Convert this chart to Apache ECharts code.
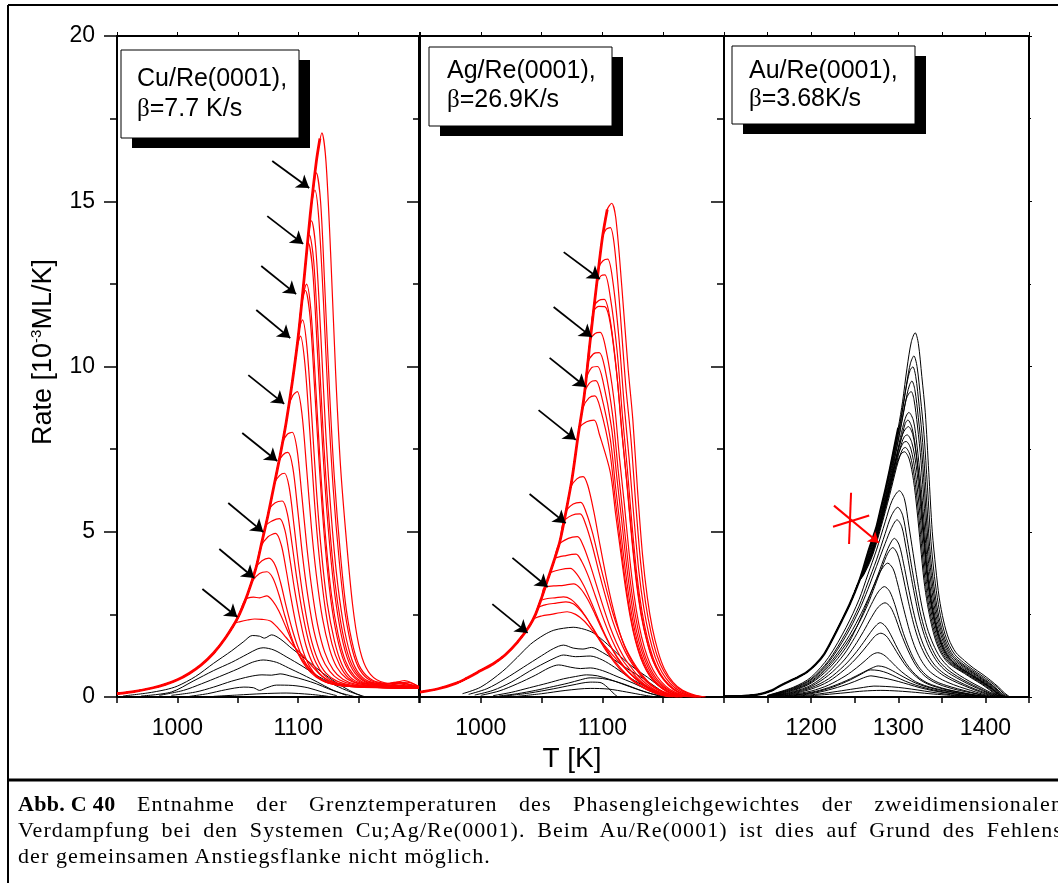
<!DOCTYPE html>
<html>
<head>
<meta charset="utf-8">
<title>Abb. C 40</title>
<script src="https://cdn.jsdelivr.net/npm/echarts@6/dist/echarts.min.js"></script>
<style>
html, body { margin:0; padding:0; overflow:hidden; background:#fff; }
#main { width:1058px; height:883px; }
#cap { position:absolute; left:18px; top:791px; width:1045px; font-family:"Liberation Serif", serif; font-size:22px; letter-spacing:1.1px; line-height:26px; color:#000; }
#cap .j { text-align:justify; text-align-last:justify; }
#cap .k { display:inline-block; font-weight:bold; letter-spacing:0.3px; }
</style>
</head>
<body>
<div id="main"></div>
<div id="cap">
<div class="j"><span class="k">Abb. C 40</span> Entnahme der Grenztemperaturen des Phasengleichgewichtes der zweidimensionalen</div>
<div class="j">Verdampfung bei den Systemen Cu;Ag/Re(0001). Beim Au/Re(0001) ist dies auf Grund des Fehlens</div>
<div>der gemeinsamen Anstiegsflanke nicht möglich.</div>
</div>
<script>
// Achsenbereiche der drei Teilbilder (T in K)
var xRanges = [[950, 1200], [950, 1200], [1100, 1450]];
var yRange = [0, 20];

/*
 * Cu/Re(0001)
 */
// gemeinsame Anstiegsflanke
var cuEdge = [[950,0.1],[965,0.17],[980,0.28],[990,0.38],[1000,0.52],[1010,0.72],[1020,0.98],[1030,1.33],[1040,1.8],[1050,2.4],[1058,3.1],[1065,3.9],[1070,4.7],[1075,5.5],[1080,6.4],[1085,7.3],[1090,8.3],[1095,9.5],[1100,10.9],[1105,12.7],[1110,14.6],[1115,16.2],[1118,16.9]];
// rote Kurven ab Abloesung von der Flanke
var cuRed = [
  [[1116,16.45],[1119.6,17.07],[1123,16.2],[1127,13.3],[1131,9.8],[1135,7.0],[1140,4.7],[1145,2.8],[1150,1.6],[1156,0.9],[1165,0.52],[1180,0.4],[1190,0.45],[1200,0.32]],
  [[1112,15.25],[1115,15.86],[1118.5,15.0],[1122,12.4],[1126,9.2],[1130,6.6],[1135,4.3],[1140,2.6],[1146,1.45],[1152,0.85],[1162,0.5],[1178,0.38],[1200,0.3]],
  [[1111,14.92],[1113.8,15.34],[1117,14.5],[1121,11.9],[1125,8.8],[1129,6.3],[1134,4.1],[1139,2.5],[1145,1.4],[1151,0.82],[1160,0.5],[1176,0.4],[1188,0.5],[1200,0.3]],
  [[1108.5,13.95],[1111,14.41],[1114.5,13.6],[1118.5,11.1],[1122.5,8.2],[1126.5,5.9],[1131.5,3.8],[1137,2.3],[1143,1.3],[1149,0.78],[1158,0.48],[1175,0.36],[1200,0.32]],
  [[1107,13.46],[1109.3,13.98],[1112.8,13.2],[1116.8,10.7],[1120.8,7.9],[1125,5.6],[1130,3.6],[1135.5,2.2],[1141.5,1.25],[1148,0.75],[1157,0.46],[1172,0.4],[1185,0.42],[1200,0.28]],
  [[1106,13.08],[1108.5,13.73],[1112,12.9],[1116,10.4],[1120,7.7],[1124,5.5],[1129,3.5],[1134.5,2.1],[1140.5,1.2],[1147,0.72],[1156,0.45],[1172,0.36],[1200,0.3]],
  [[1103,11.95],[1106.9,12.49],[1110.5,11.7],[1114.5,9.4],[1118.5,6.9],[1122.5,4.9],[1127.5,3.1],[1133,1.9],[1139,1.1],[1146,0.66],[1155,0.43],[1170,0.36],[1200,0.29]],
  [[1102.5,11.8],[1106,12.3],[1109.8,11.5],[1113.8,9.2],[1117.8,6.8],[1121.8,4.8],[1126.8,3.0],[1132,1.85],[1138,1.07],[1145,0.64],[1154,0.42],[1168,0.38],[1182,0.45],[1200,0.3]],
  [[1100.5,11.08],[1103.6,11.41],[1107.2,10.6],[1111.2,8.5],[1115.2,6.2],[1119.2,4.4],[1124.2,2.8],[1130,1.7],[1136,1.0],[1143,0.6],[1152,0.42],[1168,0.34],[1200,0.3]],
  [[1098.5,10.48],[1101.9,10.92],[1105.5,10.1],[1109.5,8.1],[1113.5,5.9],[1117.5,4.2],[1122.5,2.65],[1128,1.6],[1134.5,0.95],[1141.5,0.58],[1151,0.4],[1166,0.33],[1178,0.42],[1200,0.28]],
  [[1092,8.78],[1095.5,9.12],[1099.2,9.24],[1103,8.6],[1107,6.9],[1111,5.1],[1115,3.7],[1120,2.4],[1126,1.45],[1132,0.9],[1140,0.56],[1150,0.4],[1166,0.32],[1200,0.27]],
  [[1087,7.7],[1091,7.95],[1095,8.01],[1099,7.5],[1103,6.1],[1107,4.6],[1111,3.35],[1116,2.2],[1122,1.35],[1129,0.82],[1137,0.54],[1148,0.38],[1164,0.32],[1200,0.27]],
  [[1084,7.12],[1087.5,7.33],[1091.5,7.4],[1095.5,6.95],[1099.5,5.7],[1103.5,4.3],[1108,3.05],[1113,2.0],[1119,1.25],[1126,0.78],[1134,0.52],[1146,0.37],[1165,0.3],[1200,0.28]],
  [[1080.5,6.49],[1084.5,6.7],[1088.7,6.77],[1092.5,6.35],[1096.5,5.2],[1100.5,3.95],[1105,2.8],[1110,1.85],[1116,1.15],[1123,0.72],[1132,0.48],[1145,0.35],[1165,0.3],[1200,0.27]],
  [[1076,5.68],[1081,5.88],[1086.8,5.93],[1091,5.55],[1095,4.6],[1099,3.55],[1103.5,2.55],[1108.5,1.7],[1114.5,1.05],[1121.5,0.66],[1130,0.45],[1145,0.34],[1170,0.3],[1200,0.28]],
  [[1073,5.18],[1078.5,5.33],[1084.6,5.4],[1089,5.05],[1093,4.2],[1097,3.25],[1101.5,2.35],[1106.5,1.55],[1112.5,0.98],[1120,0.62],[1129,0.43],[1145,0.33],[1200,0.27]],
  [[1069,4.54],[1075,4.85],[1081.3,4.95],[1086,4.6],[1090,3.85],[1094,3.0],[1098.5,2.15],[1103.5,1.45],[1109.5,0.92],[1117,0.58],[1126,0.41],[1142,0.32],[1200,0.27]],
  [[1065,3.9],[1070,4.12],[1075.8,4.2],[1081,3.98],[1085.5,3.45],[1090,2.75],[1095,2.05],[1100.5,1.45],[1107,0.97],[1115,0.64],[1124,0.44],[1142,0.32],[1200,0.27]],
  [[1062,3.5],[1068,3.74],[1074.1,3.79],[1079,3.6],[1084,3.1],[1089,2.45],[1094,1.85],[1100,1.3],[1107,0.88],[1115,0.6],[1125,0.42],[1142,0.32],[1200,0.26]],
  [[1056,2.93],[1063,3.02],[1068,3.0],[1074,3.06],[1079,2.9],[1084,2.6],[1090,2.1],[1096,1.6],[1102,1.2],[1109,0.85],[1117,0.58],[1127,0.42],[1145,0.32],[1200,0.26]],
  [[1047,2.22],[1052,2.28],[1058,2.33],[1064,2.36],[1070,2.35],[1077,2.3],[1083,2.1],[1090,1.8],[1097,1.5],[1104,1.25],[1111,0.95],[1118,0.68],[1126,0.48],[1136,0.36],[1150,0.3],[1200,0.26]]
];
// schwarze Kurven (kleine Bedeckungen)
var cuBlack = [
  [[955,0.03],[975,0.12],[990,0.22],[1000,0.33],[1015,0.62],[1030,1.02],[1045,1.4],[1055,1.68],[1062,1.86],[1068,1.84],[1072,1.78],[1078,1.88],[1085,1.76],[1095,1.46],[1105,1.18],[1115,0.88],[1125,0.6],[1137,0.31],[1148,0.1],[1156,0]],
  [[970,0.03],[995,0.15],[1013,0.48],[1030,0.8],[1045,1.05],[1058,1.3],[1066,1.45],[1071,1.49],[1080,1.42],[1090,1.22],[1104,0.92],[1115,0.66],[1127,0.42],[1140,0.2],[1152,0.04]],
  [[985,0.05],[1005,0.2],[1020,0.4],[1035,0.62],[1050,0.85],[1062,1.05],[1071,1.12],[1082,1.05],[1092,0.88],[1104,0.67],[1116,0.45],[1128,0.22],[1140,0.05]],
  [[995,0.05],[1015,0.15],[1030,0.3],[1045,0.48],[1060,0.62],[1070,0.67],[1078,0.66],[1085,0.7],[1095,0.62],[1105,0.52],[1115,0.4],[1125,0.25],[1135,0.12],[1146,0.02]],
  [[1010,0.02],[1025,0.1],[1040,0.22],[1055,0.3],[1063,0.28],[1068,0.2],[1074,0.28],[1082,0.36],[1095,0.35],[1108,0.28],[1120,0.15],[1132,0.04]],
  [[1030,0.02],[1050,0.06],[1070,0.1],[1090,0.12],[1110,0.08],[1125,0.02]]
];
// Pfeile: [T Anfang, Rate Anfang, T Spitze, Rate Spitze]
var cuArrows = [[1078.5,16.22,1109.1,15.4],[1074.4,14.55,1104.1,13.71],[1069.4,13.04,1098.3,12.19],[1065.3,11.71,1093.4,10.86],[1058.7,9.74,1088.4,8.87],[1053.7,7.99,1082.6,7.14],[1042.1,5.87,1071.1,4.99],[1034.7,4.48,1063.6,3.6],[1020.7,3.27,1049.6,2.42]];

/*
 * Ag/Re(0001)
 */
var agEdge = [[950,0.15],[965,0.25],[980,0.42],[990,0.6],[1000,0.8],[1010,1.0],[1020,1.27],[1030,1.65],[1040,2.15],[1045,2.5],[1050,3.0],[1055,3.55],[1060,4.1],[1065,4.7],[1070,5.6],[1075,6.6],[1080,7.9],[1085,9.1],[1090,10.8],[1095,12.4],[1100,13.9],[1104,14.75]];
var agRed = [
  [[1104,14.75],[1107.6,14.94],[1111,14.5],[1116,12.4],[1121,10.0],[1125,8.4],[1129,6.2],[1133,4.3],[1137,3.0],[1141,2.1],[1146,1.35],[1151,0.85],[1158,0.45],[1166,0.2],[1176,0.06],[1185,0]],
  [[1100,13.9],[1103,14.15],[1106.5,14.2],[1110,13.6],[1114.5,11.7],[1119,9.5],[1123.5,7.8],[1127.5,5.8],[1131.5,4.05],[1135.5,2.85],[1140,1.95],[1145,1.25],[1150.5,0.78],[1157.5,0.42],[1165.5,0.18],[1175,0.05],[1184,0]],
  [[1097,13.0],[1100.5,13.2],[1104.4,13.25],[1108.5,12.6],[1113.5,10.9],[1118,8.8],[1122,7.2],[1126,5.4],[1130,3.8],[1134,2.7],[1138.5,1.85],[1143.5,1.2],[1149,0.75],[1156,0.4],[1164,0.17],[1174,0.04],[1183,0]],
  [[1095.5,12.55],[1099,12.75],[1102.1,12.77],[1106.5,12.1],[1112,10.5],[1116.5,8.5],[1120.5,6.9],[1124.5,5.15],[1128.5,3.65],[1132.5,2.6],[1137,1.78],[1142,1.15],[1147.5,0.72],[1154.5,0.38],[1162.5,0.16],[1172,0.04],[1181,0]],
  [[1093,11.8],[1097,12.0],[1101.5,12.03],[1106,11.5],[1111.5,9.9],[1116,8.0],[1120,6.5],[1124,4.85],[1128,3.45],[1132,2.45],[1136.5,1.7],[1141.5,1.1],[1147,0.7],[1154,0.37],[1162,0.15],[1172,0.04],[1181,0]],
  [[1092.5,11.65],[1097,11.82],[1102,11.81],[1106.5,11.3],[1112,9.7],[1116.5,7.85],[1120.5,6.35],[1124.5,4.75],[1128.5,3.4],[1132.5,2.4],[1137,1.65],[1142,1.07],[1147.5,0.68],[1154.5,0.36],[1162,0.15],[1172,0.04],[1181,0]],
  [[1090,10.8],[1094,11.0],[1098.2,11.03],[1103,10.5],[1109.5,9.0],[1114,7.25],[1118,5.85],[1122,4.35],[1126,3.1],[1130,2.2],[1134.5,1.5],[1139.5,0.98],[1145,0.62],[1152,0.33],[1160,0.14],[1170,0.03],[1180,0]],
  [[1088,10.1],[1092.5,10.38],[1097.4,10.42],[1102,9.95],[1108.5,8.5],[1113,6.85],[1117,5.5],[1121,4.1],[1125,2.95],[1129,2.1],[1133.5,1.42],[1138.5,0.93],[1144,0.58],[1151,0.31],[1159,0.13],[1169,0.03],[1179,0]],
  [[1086.5,9.6],[1091,9.96],[1096,10.0],[1100.5,9.55],[1107.5,8.15],[1112,6.6],[1116,5.3],[1120,3.95],[1124,2.85],[1128,2.0],[1132.5,1.38],[1137.5,0.9],[1143,0.56],[1150,0.3],[1158.5,0.12],[1168,0.03],[1178,0]],
  [[1085.5,9.25],[1090,9.52],[1094.6,9.57],[1099,9.15],[1106.5,7.8],[1111,6.3],[1115,5.05],[1119,3.8],[1123,2.75],[1127,1.95],[1131.5,1.33],[1136.5,0.87],[1142,0.54],[1149,0.29],[1157,0.12],[1167,0.03],[1177,0]],
  [[1084,8.75],[1089,9.05],[1093.8,9.11],[1098.5,8.7],[1106,7.45],[1110.5,6.0],[1114.5,4.8],[1118.5,3.6],[1122.5,2.6],[1126.5,1.85],[1131,1.27],[1136,0.83],[1141.5,0.52],[1148.5,0.28],[1156,0.11],[1166,0.03],[1176,0]],
  [[1081,8.15],[1087,8.33],[1093.2,8.38],[1097.5,7.95],[1106.5,6.8],[1111,5.5],[1115,4.4],[1119,3.3],[1123,2.4],[1127,1.72],[1131.5,1.18],[1136.5,0.78],[1142,0.49],[1149,0.26],[1157,0.1],[1167,0.02],[1177,0]],
  [[1074,6.35],[1079,6.6],[1084.1,6.67],[1088,6.4],[1093,5.6],[1098,4.6],[1103,3.65],[1108,2.8],[1113,2.1],[1118,1.55],[1124,1.1],[1130,0.75],[1137,0.45],[1145,0.24],[1155,0.08],[1166,0]],
  [[1070,5.6],[1076,5.84],[1082.2,5.89],[1086.5,5.6],[1092,4.95],[1097.5,4.1],[1103,3.3],[1108.5,2.55],[1114,1.95],[1119.5,1.45],[1125,1.08],[1131,0.75],[1138,0.45],[1146,0.23],[1156,0.08],[1166,0]],
  [[1068,5.3],[1075,5.5],[1081.7,5.54],[1086,5.25],[1091.5,4.6],[1097,3.8],[1102.5,3.05],[1108,2.35],[1113.5,1.8],[1119,1.35],[1124.5,1.0],[1130.5,0.7],[1137.5,0.42],[1145.5,0.21],[1155,0.07],[1165,0]],
  [[1064,4.6],[1072,4.8],[1079.5,4.85],[1084,4.6],[1089.5,4.05],[1095,3.4],[1100.5,2.75],[1106,2.15],[1111.5,1.65],[1117,1.25],[1123,0.93],[1129,0.65],[1136,0.4],[1144,0.2],[1153,0.07],[1163,0]],
  [[1061,4.2],[1070,4.28],[1078.3,4.32],[1083,4.1],[1088.5,3.65],[1094,3.08],[1099.5,2.5],[1105,1.97],[1110.5,1.52],[1116,1.15],[1122,0.86],[1128,0.6],[1135,0.37],[1143,0.19],[1152,0.06],[1162,0]],
  [[1057,3.75],[1065,3.85],[1073.6,3.89],[1079,3.72],[1085,3.35],[1091,2.85],[1097,2.32],[1103,1.82],[1109,1.4],[1115,1.06],[1121,0.78],[1127.5,0.54],[1134.5,0.33],[1142,0.17],[1151,0.05],[1161,0]],
  [[1052,3.3],[1060,3.36],[1068,3.38],[1076.3,3.42],[1082,3.28],[1088,2.95],[1094,2.5],[1100,2.02],[1106,1.58],[1112,1.2],[1118,0.9],[1124,0.66],[1130.5,0.45],[1138,0.27],[1146,0.12],[1156,0.03],[1165,0]],
  [[1049,2.9],[1055,2.98],[1061,3.0],[1068,3.03],[1074,2.96],[1080,2.75],[1086,2.45],[1092,2.08],[1098,1.7],[1104,1.35],[1110,1.04],[1116,0.78],[1122.5,0.56],[1129.5,0.37],[1137,0.21],[1146,0.08],[1156,0]],
  [[1047,2.7],[1054,2.8],[1062,2.84],[1070,2.88],[1076,2.82],[1082,2.62],[1088,2.33],[1094,1.98],[1100,1.63],[1106,1.3],[1112,1.0],[1118,0.75],[1124.5,0.53],[1131.5,0.35],[1139,0.2],[1148,0.07],[1158,0]],
  [[1043,2.35],[1050,2.45],[1058,2.5],[1065,2.55],[1071,2.58],[1078,2.5],[1085,2.3],[1092,2.0],[1099,1.68],[1106,1.37],[1113,1.08],[1120,0.82],[1127,0.58],[1134,0.38],[1142,0.21],[1151,0.08],[1162,0]]
];
var agBlack = [
  [[985,0.1],[1000,0.3],[1018,0.78],[1030,1.2],[1041,1.6],[1052,1.88],[1060,2.02],[1068,2.08],[1076,2.11],[1085,2.05],[1093,1.93],[1104,1.6],[1115,1.22],[1126,0.88],[1137,0.6],[1146,0.35],[1154,0.16],[1162,0.03]],
  [[990,0.08],[1005,0.25],[1020,0.55],[1035,0.9],[1050,1.25],[1060,1.47],[1068,1.57],[1076,1.48],[1084,1.45],[1091,1.5],[1100,1.35],[1110,1.12],[1122,0.82],[1134,0.55],[1144,0.3],[1152,0.1],[1158,0]],
  [[995,0.06],[1010,0.2],[1025,0.45],[1040,0.78],[1052,1.02],[1062,1.2],[1068,1.27],[1078,1.22],[1090,1.24],[1100,1.12],[1110,0.9],[1121,0.62],[1132,0.38],[1142,0.18],[1150,0.04]],
  [[1000,0.05],[1015,0.18],[1030,0.4],[1045,0.66],[1056,0.88],[1064,0.97],[1074,0.9],[1082,0.86],[1090,0.88],[1100,0.8],[1112,0.62],[1126,0.41],[1138,0.2],[1148,0.05]],
  [[1010,0.04],[1025,0.14],[1040,0.28],[1055,0.42],[1068,0.55],[1078,0.62],[1087,0.67],[1096,0.64],[1106,0.53],[1116,0.4],[1128,0.24],[1140,0.1],[1150,0.02]],
  [[1015,0.03],[1030,0.1],[1045,0.2],[1060,0.32],[1072,0.42],[1082,0.52],[1090,0.58],[1100,0.56],[1110,0.48],[1120,0.36],[1130,0.22],[1140,0.1],[1148,0.02]],
  [[1020,0.03],[1040,0.12],[1060,0.25],[1075,0.36],[1090,0.45],[1098,0.44],[1104,0.3],[1110,0.08],[1113,0]],
  [[1030,0.02],[1050,0.1],[1070,0.2],[1090,0.26],[1105,0.24],[1120,0.15],[1135,0.05],[1145,0]]
];
var agArrows = [[1068.2,13.46,1097.9,12.65],[1059.9,11.8,1091.3,10.89],[1056.6,10.26,1086.4,9.38],[1047.5,8.68,1078.1,7.78],[1040.1,6.14,1069.8,5.26],[1026,4.21,1055,3.33],[1009.5,2.81,1038.5,1.94]];

/*
 * Au/Re(0001)
 */
// linke Einhuellende des Kurvenbuendels
var auEdge = [[1100,0.02],[1120,0.03],[1140,0.08],[1155,0.2],[1165,0.35],[1175,0.48],[1185,0.6],[1195,0.75],[1205,0.98],[1215,1.3],[1225,1.78],[1235,2.3],[1245,2.85],[1255,3.5],[1260,3.9],[1265,4.35],[1270,4.75],[1275,5.15],[1280,5.7],[1285,6.25],[1290,6.85],[1295,7.5],[1300,8.15]];
// hohe Bedeckungen (ab 1260 K eigene Punkte)
var auUpper = [
  [[1260,3.9],[1265,4.35],[1270,4.75],[1275,5.15],[1280,5.7],[1285,6.25],[1290,6.85],[1295,7.5],[1300,8.15],[1305,8.95],[1310,9.95],[1315,10.75],[1319.4,11.02],[1323,10.7],[1327,9.7],[1331,8.6],[1335,6.8],[1339,5.0],[1343,3.9],[1347,3.0],[1352,2.3],[1358,1.75],[1366,1.35],[1376,1.1],[1386,0.88],[1396,0.7],[1406,0.5],[1415,0.3],[1422,0.12],[1428,0]],
  [[1260,3.8],[1270,4.6],[1280,5.5],[1290,6.6],[1300,7.95],[1305,8.7],[1310,9.55],[1314,10.1],[1317.9,10.32],[1321.5,10.0],[1325.5,9.05],[1329.5,7.95],[1333.5,6.35],[1337.5,4.7],[1341.5,3.65],[1346,2.8],[1351,2.15],[1357,1.65],[1365,1.28],[1375,1.04],[1385,0.84],[1395,0.66],[1405,0.47],[1414,0.28],[1421,0.1],[1427,0]],
  [[1260,3.85],[1270,4.65],[1280,5.55],[1290,6.7],[1300,8.0],[1305,8.75],[1310,9.5],[1313.5,9.88],[1316.7,9.99],[1320,9.7],[1324,8.8],[1328,7.7],[1332,6.15],[1336,4.55],[1340,3.55],[1344.5,2.72],[1349.5,2.1],[1355.5,1.62],[1363,1.26],[1373,1.02],[1383,0.83],[1393,0.65],[1403,0.46],[1412,0.27],[1419,0.1],[1425,0]],
  [[1260,3.78],[1270,4.45],[1280,5.35],[1290,6.45],[1300,7.75],[1305,8.45],[1310,9.15],[1313,9.45],[1315.6,9.56],[1319,9.3],[1323,8.45],[1327,7.4],[1331,5.9],[1335,4.4],[1339,3.45],[1343.5,2.65],[1348.5,2.05],[1354.5,1.58],[1362,1.23],[1372,1.0],[1382,0.81],[1392,0.63],[1402,0.45],[1411,0.27],[1418,0.1],[1424,0]],
  [[1260,3.8],[1270,4.55],[1280,5.45],[1290,6.55],[1300,7.8],[1305,8.5],[1309,9.0],[1312,9.18],[1314.8,9.24],[1318,9.0],[1322,8.2],[1326,7.15],[1330,5.7],[1334,4.25],[1338,3.35],[1342.5,2.58],[1347.5,2.0],[1353.5,1.55],[1361,1.2],[1371,0.98],[1381,0.8],[1391,0.62],[1401,0.44],[1410,0.26],[1417,0.09],[1423,0]],
  [[1260,3.75],[1270,4.4],[1280,5.3],[1290,6.35],[1300,7.55],[1305,8.15],[1309,8.5],[1312.1,8.61],[1317.5,8.35],[1321.5,7.6],[1325.5,6.6],[1329.5,5.3],[1333.5,4.0],[1337.5,3.15],[1342,2.45],[1347,1.9],[1353,1.48],[1360.5,1.16],[1370,0.95],[1380,0.78],[1390,0.6],[1400,0.43],[1409,0.25],[1416,0.09],[1422,0]],
  [[1260,3.72],[1270,4.35],[1280,5.25],[1290,6.3],[1300,7.45],[1305,7.98],[1308,8.28],[1311,8.38],[1316,8.12],[1320.5,7.4],[1324.5,6.4],[1328.5,5.15],[1332.5,3.9],[1336.5,3.08],[1341,2.4],[1346,1.87],[1352,1.45],[1359.5,1.14],[1369,0.93],[1379,0.76],[1389,0.59],[1399,0.42],[1408,0.25],[1415,0.09],[1421,0]],
  [[1260,3.76],[1270,4.5],[1280,5.4],[1290,6.45],[1300,7.5],[1305,7.95],[1308.5,8.12],[1311.7,8.18],[1316.5,7.95],[1321,7.25],[1325,6.3],[1329,5.05],[1333,3.85],[1337,3.05],[1341.5,2.38],[1346.5,1.85],[1352.5,1.44],[1360,1.13],[1369,0.92],[1379,0.75],[1389,0.58],[1399,0.41],[1408,0.24],[1415,0.08],[1421,0]],
  [[1260,3.7],[1270,4.3],[1280,5.2],[1290,6.2],[1300,7.3],[1304,7.7],[1307,7.88],[1310.2,7.93],[1315.5,7.7],[1320.5,7.0],[1324.5,6.05],[1328.5,4.9],[1332.5,3.75],[1336.5,2.97],[1341,2.32],[1346,1.8],[1352,1.4],[1359.5,1.1],[1369,0.9],[1379,0.74],[1389,0.57],[1399,0.4],[1408,0.23],[1415,0.08],[1421,0]],
  [[1260,3.74],[1270,4.42],[1280,5.32],[1290,6.32],[1298,7.2],[1303,7.55],[1306,7.7],[1309,7.73],[1314.5,7.5],[1319.5,6.8],[1323.5,5.9],[1327.5,4.78],[1331.5,3.67],[1335.5,2.92],[1340,2.28],[1345,1.77],[1351,1.38],[1358.5,1.09],[1368,0.89],[1378,0.73],[1388,0.56],[1398,0.4],[1407,0.23],[1414,0.08],[1420,0]],
  [[1260,3.68],[1270,4.25],[1280,5.12],[1290,6.1],[1298,6.95],[1302,7.3],[1305,7.5],[1308,7.55],[1313.5,7.32],[1318.5,6.65],[1322.5,5.75],[1326.5,4.65],[1330.5,3.58],[1334.5,2.85],[1339,2.23],[1344,1.73],[1350,1.35],[1357.5,1.07],[1367,0.88],[1377,0.72],[1387,0.55],[1397,0.39],[1406,0.22],[1413,0.07],[1419,0]],
  [[1260,3.72],[1270,4.35],[1280,5.25],[1290,6.25],[1297,6.95],[1301,7.25],[1304,7.38],[1307,7.42],[1312.5,7.2],[1317.5,6.55],[1321.5,5.65],[1325.5,4.57],[1329.5,3.52],[1333.5,2.8],[1338,2.2],[1343,1.7],[1349,1.33],[1356.5,1.05],[1366,0.87],[1376,0.71],[1386,0.54],[1396,0.38],[1405,0.21],[1412,0.07],[1418,0]]
];
// niedrige Bedeckungen
var auLower = [
  [[1150,0.05],[1180,0.3],[1200,0.6],[1220,1.2],[1240,2.1],[1255,2.95],[1265,3.7],[1275,4.45],[1285,5.3],[1293,5.95],[1301.3,6.24],[1307,6.0],[1312,5.2],[1317,4.35],[1322,3.5],[1327,2.75],[1333,2.1],[1340,1.6],[1348,1.2],[1358,0.9],[1370,0.66],[1382,0.47],[1394,0.3],[1405,0.15],[1415,0.04],[1422,0]],
  [[1150,0.04],[1180,0.28],[1200,0.55],[1220,1.1],[1240,1.95],[1255,2.75],[1265,3.45],[1275,4.15],[1285,4.95],[1292,5.48],[1299.4,5.74],[1305,5.5],[1310,4.8],[1315,4.0],[1320,3.25],[1325,2.58],[1331,1.98],[1338,1.5],[1346,1.12],[1356,0.84],[1368,0.62],[1380,0.44],[1392,0.28],[1403,0.14],[1413,0.04],[1420,0]],
  [[1150,0.04],[1180,0.26],[1200,0.52],[1220,1.05],[1240,1.85],[1255,2.62],[1265,3.25],[1275,3.95],[1285,4.65],[1292,5.1],[1298.6,5.36],[1304,5.15],[1309,4.5],[1314,3.75],[1319,3.05],[1324,2.42],[1330,1.86],[1337,1.4],[1345,1.05],[1355,0.78],[1367,0.58],[1379,0.41],[1391,0.26],[1402,0.13],[1412,0.03],[1419,0]],
  [[1150,0.03],[1180,0.24],[1200,0.48],[1220,0.98],[1240,1.7],[1255,2.4],[1265,2.95],[1275,3.58],[1283,4.15],[1290,4.6],[1295.5,4.8],[1301,4.6],[1306,4.05],[1311,3.38],[1316,2.75],[1321,2.2],[1327,1.7],[1334,1.28],[1342,0.96],[1352,0.72],[1364,0.53],[1376,0.38],[1388,0.24],[1400,0.12],[1410,0.03],[1417,0]],
  [[1150,0.03],[1180,0.22],[1200,0.45],[1220,0.92],[1240,1.6],[1255,2.25],[1265,2.8],[1273,3.35],[1281,3.9],[1288,4.35],[1293.6,4.52],[1299,4.33],[1304,3.82],[1309,3.2],[1314,2.6],[1319,2.08],[1325,1.6],[1332,1.21],[1340,0.91],[1350,0.68],[1362,0.5],[1374,0.36],[1386,0.23],[1398,0.11],[1408,0.03],[1415,0]],
  [[1150,0.03],[1180,0.2],[1200,0.42],[1220,0.85],[1240,1.5],[1252,2.1],[1262,2.7],[1271,3.3],[1279,3.78],[1287.9,4.05],[1294,3.88],[1299,3.45],[1304,2.9],[1309,2.38],[1314,1.9],[1320,1.45],[1327,1.08],[1335,0.8],[1345,0.6],[1357,0.44],[1370,0.31],[1383,0.2],[1395,0.1],[1405,0.03],[1412,0]],
  [[1150,0.02],[1180,0.17],[1200,0.36],[1220,0.75],[1238,1.3],[1250,1.8],[1260,2.3],[1269,2.8],[1277,3.18],[1284,3.34],[1290,3.2],[1296,2.8],[1301,2.35],[1306,1.92],[1312,1.5],[1318,1.15],[1325,0.86],[1333,0.64],[1343,0.47],[1355,0.35],[1368,0.25],[1381,0.16],[1393,0.08],[1403,0.02],[1410,0]],
  [[1150,0.02],[1180,0.15],[1200,0.32],[1220,0.66],[1238,1.12],[1250,1.55],[1260,1.98],[1269,2.4],[1277,2.72],[1284.8,2.85],[1291,2.72],[1297,2.38],[1302,2.0],[1308,1.6],[1314,1.25],[1320,0.96],[1327,0.72],[1335,0.54],[1345,0.4],[1357,0.29],[1370,0.2],[1383,0.13],[1395,0.06],[1405,0]],
  [[1150,0.02],[1180,0.13],[1200,0.28],[1220,0.55],[1238,0.95],[1250,1.3],[1260,1.65],[1268,1.95],[1274,2.15],[1279.3,2.25],[1285,2.15],[1291,1.9],[1297,1.58],[1303,1.28],[1309,1.02],[1316,0.78],[1324,0.58],[1333,0.43],[1344,0.32],[1356,0.23],[1370,0.15],[1384,0.08],[1396,0.03],[1405,0]],
  [[1150,0.02],[1180,0.11],[1200,0.24],[1220,0.47],[1238,0.82],[1250,1.12],[1260,1.42],[1268,1.68],[1274,1.86],[1280,1.93],[1286,1.85],[1292,1.63],[1298,1.37],[1304,1.12],[1310,0.9],[1317,0.7],[1325,0.52],[1334,0.39],[1345,0.29],[1357,0.21],[1371,0.14],[1385,0.07],[1397,0.02],[1405,0]],
  [[1150,0.01],[1180,0.09],[1200,0.18],[1220,0.36],[1240,0.65],[1252,0.88],[1262,1.1],[1270,1.28],[1276.3,1.34],[1283,1.28],[1290,1.12],[1297,0.93],[1304,0.76],[1312,0.6],[1320,0.46],[1330,0.35],[1342,0.26],[1355,0.19],[1370,0.12],[1385,0.06],[1398,0.01]],
  [[1160,0.02],[1185,0.08],[1205,0.17],[1225,0.33],[1245,0.55],[1260,0.75],[1270,0.88],[1277,0.94],[1285,0.9],[1293,0.8],[1301,0.68],[1310,0.55],[1320,0.42],[1332,0.31],[1345,0.22],[1360,0.15],[1376,0.08],[1392,0.02],[1400,0]],
  [[1160,0.02],[1185,0.07],[1205,0.15],[1225,0.3],[1245,0.52],[1258,0.7],[1268,0.82],[1278,0.8],[1288,0.72],[1298,0.6],[1308,0.48],[1320,0.36],[1333,0.26],[1348,0.17],[1364,0.1],[1380,0.04],[1395,0]],
  [[1170,0.02],[1195,0.08],[1215,0.18],[1235,0.33],[1250,0.47],[1260,0.58],[1268.6,0.64],[1278,0.6],[1288,0.55],[1300,0.47],[1312,0.38],[1325,0.28],[1340,0.19],[1356,0.12],[1372,0.06],[1388,0.02],[1398,0]],
  [[1180,0.02],[1205,0.08],[1225,0.15],[1245,0.23],[1260,0.29],[1272,0.33],[1285,0.32],[1300,0.29],[1315,0.24],[1330,0.18],[1345,0.12],[1360,0.07],[1375,0.03],[1390,0]],
  [[1190,0.02],[1215,0.07],[1240,0.13],[1260,0.18],[1280,0.2],[1300,0.18],[1320,0.14],[1340,0.09],[1360,0.05],[1380,0.02],[1395,0]]
];
// rotes Sternchen mit Pfeil: [T1, R1, T2, R2]
var auStar = [[1245.8,6.18,1243.5,4.63],[1225.1,5.15,1266.6,5.49]];
var auStarArrow = [1226.2,5.79,1277.5,4.67];

var boxTexts = ['Cu/Re(0001),\n{b|β}=7.7 K/s', 'Ag/Re(0001),\n{b|β}=26.9K/s', 'Au/Re(0001),\n{b|β}=3.68K/s'];

var FONT = 'Liberation Sans';

function withEdge(edge, pts) {
  var t0 = pts[0][0];
  return edge.filter(function (p) { return p[0] < t0; }).concat(pts);
}

function curve(gi, data, color, width) {
  return {
    type: 'line', xAxisIndex: gi, yAxisIndex: gi, data: data,
    showSymbol: false, smooth: 0.3, silent: true,
    lineStyle: { color: color, width: width }
  };
}

function arrowData(list) {
  return list.map(function (a) {
    return [{ coord: [a[0], a[1]] }, { coord: [a[2], a[3]] }];
  });
}

function xLabel(min, max) {
  return function (v) {
    return (v % 100 === 0 && v !== min && v !== max) ? String(v) : '';
  };
}

var grids = [
  { left: 117, top: 36, width: 302, height: 661 },
  { left: 420, top: 36, width: 304, height: 661 },
  { left: 724, top: 36, width: 305, height: 661 }
];

var xAxes = [], yAxes = [];
for (var i = 0; i < 3; i++) {
  xAxes.push({
    type: 'value', gridIndex: i, position: 'bottom',
    min: xRanges[i][0], max: xRanges[i][1], interval: 50,
    name: i === 1 ? 'T [K]' : '', nameLocation: 'middle', nameGap: 47,
    nameTextStyle: { fontSize: 28, fontFamily: FONT, color: '#000' },
    axisLine: { show: true, onZero: false, lineStyle: { color: '#000', width: 2 } },
    axisTick: { show: true, inside: false, length: 6, lineStyle: { color: '#000', width: 1.5 } },
    axisLabel: { margin: 20, fontSize: 23, fontFamily: FONT, color: '#000', formatter: xLabel(xRanges[i][0], xRanges[i][1]) },
    splitLine: { show: false }
  });
}
for (var i = 0; i < 3; i++) {
  xAxes.push({
    type: 'value', gridIndex: i, position: 'top',
    min: xRanges[i][0], max: xRanges[i][1], interval: 50,
    axisLine: { show: true, onZero: false, lineStyle: { color: '#000', width: 2 } },
    axisTick: { show: true, inside: false, length: 4, lineStyle: { color: '#000', width: 1 } },
    axisLabel: { show: false },
    splitLine: { show: false }
  });
}
for (var i = 0; i < 3; i++) {
  yAxes.push({
    type: 'value', gridIndex: i, position: 'left',
    min: yRange[0], max: yRange[1], interval: 5,
    axisLine: { show: true, onZero: false, lineStyle: { color: '#000', width: 2 } },
    axisTick: { show: true, inside: false, length: 13, lineStyle: { color: '#000', width: 1.5 } },
    minorTick: { show: true, splitNumber: 2, length: 7, lineStyle: { color: '#000', width: 1.5 } },
    axisLabel: { show: i === 0, margin: 22, fontSize: 23, fontFamily: FONT, color: '#000' },
    splitLine: { show: false }, minorSplitLine: { show: false }
  });
}
for (var i = 0; i < 3; i++) {
  yAxes.push({
    type: 'value', gridIndex: i, position: 'right',
    min: yRange[0], max: yRange[1], interval: 5,
    axisLine: { show: true, onZero: false, lineStyle: { color: '#000', width: 2 } },
    axisTick: { show: i === 2, inside: false, length: 3, lineStyle: { color: '#000', width: 1 } },
    minorTick: { show: i === 2, splitNumber: 2, length: 2, lineStyle: { color: '#000', width: 1 } },
    axisLabel: { show: false },
    splitLine: { show: false }
  });
}

var arrowStyle = { color: '#000', width: 1.8, type: 'solid' };

var series = [];
// Cu
cuBlack.forEach(function (c) { series.push(curve(0, c, '#000', 1)); });
cuRed.forEach(function (c) { series.push(curve(0, withEdge(cuEdge, c), '#ff0000', 1.2)); });
var cuTop = curve(0, cuEdge, '#ff0000', 2.8);
cuTop.markLine = {
  silent: true, animation: false, symbol: ['none', 'arrow'], symbolSize: 12,
  label: { show: false }, lineStyle: arrowStyle,
  data: arrowData(cuArrows)
};
series.push(cuTop);
// Ag
agBlack.forEach(function (c) { series.push(curve(1, c, '#000', 1)); });
agRed.forEach(function (c) { series.push(curve(1, withEdge(agEdge, c), '#ff0000', 1.2)); });
var agTop = curve(1, agEdge, '#ff0000', 2.8);
agTop.markLine = {
  silent: true, animation: false, symbol: ['none', 'arrow'], symbolSize: 12,
  label: { show: false }, lineStyle: arrowStyle,
  data: arrowData(agArrows)
};
series.push(agTop);
// Au
auLower.forEach(function (c) { series.push(curve(2, c, '#000', 1)); });
auUpper.forEach(function (c) { series.push(curve(2, withEdge(auEdge, c), '#000', 1)); });
var auTop = curve(2, auEdge, '#000', 2.2);
var starData = arrowData(auStar).map(function (d) {
  d[1].symbol = 'none';
  return d;
});
starData.push(arrowData([auStarArrow])[0]);
auTop.markLine = {
  silent: true, animation: false, symbol: ['none', 'arrow'], symbolSize: 10,
  label: { show: false }, lineStyle: { color: '#ff0000', width: 2, type: 'solid' },
  data: starData
};
series.push(auTop);

// Beschriftungskaesten
var boxes = [
  { x: 121, y: 50, w: 178, h: 88, tx: 137, ty: 64, lh: 30 },
  { x: 429, y: 47, w: 183, h: 79, tx: 447, ty: 57, lh: 29 },
  { x: 732, y: 46, w: 183, h: 78, tx: 749, ty: 57, lh: 28 }
];
var graphic = [
  { type: 'line', shape: { x1: 8, y1: 5, x2: 1058, y2: 5 }, style: { stroke: '#000', lineWidth: 2 } },
  { type: 'line', shape: { x1: 8, y1: 5, x2: 8, y2: 883 }, style: { stroke: '#000', lineWidth: 2 } },
  { type: 'line', shape: { x1: 8, y1: 780, x2: 1058, y2: 780 }, style: { stroke: '#000', lineWidth: 3 } },
  {
    type: 'text', x: 44, y: 352, rotation: Math.PI / 2,
    style: {
      text: '{a|Rate [10}{s|-3}{a|ML/K]}', fill: '#000', align: 'center', verticalAlign: 'middle',
      rich: {
        a: { fontSize: 27, fontFamily: FONT, lineHeight: 30 },
        s: { fontSize: 15, fontFamily: FONT, lineHeight: 30, verticalAlign: 'top' }
      }
    }
  }
];
boxes.forEach(function (b, k) {
  graphic.push({ type: 'rect', shape: { x: b.x + 11, y: b.y + 10, width: b.w, height: b.h }, style: { fill: '#000' } });
  graphic.push({ type: 'rect', shape: { x: b.x, y: b.y, width: b.w, height: b.h }, style: { fill: '#fff', stroke: '#000', lineWidth: 1 } });
  graphic.push({
    type: 'text', x: b.tx, y: b.ty,
    style: {
      text: boxTexts[k], fill: '#000', fontSize: 25, fontFamily: FONT, lineHeight: b.lh,
      align: 'left', verticalAlign: 'top',
      rich: { b: { fontSize: 25, fontFamily: 'Liberation Serif', lineHeight: b.lh } }
    }
  });
});

var chart = echarts.init(document.getElementById('main'));
chart.setOption({
  animation: false,
  backgroundColor: '#fff',
  grid: grids,
  xAxis: xAxes,
  yAxis: yAxes,
  series: series,
  graphic: graphic
});
</script>
</body>
</html>
